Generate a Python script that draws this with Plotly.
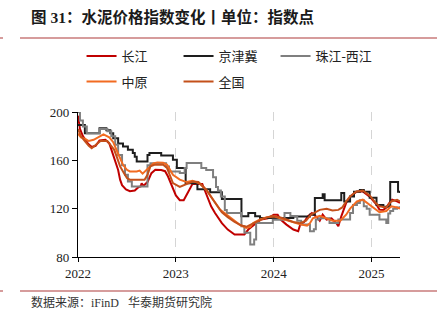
import plotly.graph_objects as go

# ---- data (decimal years, index points) ----
t_cj = [2022.00, 2022.02, 2022.05, 2022.10, 2022.14, 2022.18, 2022.22, 2022.28, 2022.32, 2022.35, 2022.38,
        2022.41, 2022.43, 2022.45, 2022.49, 2022.53, 2022.58, 2022.62, 2022.64, 2022.65, 2022.67, 2022.71,
        2022.75, 2022.79, 2022.85, 2022.89, 2022.92, 2022.96, 2023.00, 2023.04, 2023.08, 2023.12, 2023.17,
        2023.27, 2023.32, 2023.36, 2023.40, 2023.47, 2023.53, 2023.60, 2023.70, 2023.74, 2023.80, 2023.87,
        2023.94, 2024.00, 2024.04, 2024.07, 2024.13, 2024.20, 2024.25, 2024.27, 2024.31, 2024.35, 2024.39,
        2024.44, 2024.47, 2024.50, 2024.54, 2024.59, 2024.64, 2024.66, 2024.69, 2024.74, 2024.78, 2024.85,
        2024.91, 2024.98, 2025.05, 2025.08, 2025.12, 2025.15, 2025.18, 2025.21, 2025.26, 2025.29]
v_cj = [197, 186, 180, 174, 171, 172, 176.5, 177, 174, 167, 159,
        152, 144, 139.5, 136, 134.5, 135, 138, 138.4, 141, 139, 142,
        149.4, 152.2, 152, 151, 146.6, 138.4, 131, 127, 127, 133, 140.5,
        140.5, 130, 122, 116.4, 108, 102.7, 98.6, 98.6, 102.7, 106.8, 111,
        112, 115, 115, 111, 106.8, 102.7, 101.3, 106.8, 109, 113.7, 116.4,
        113, 110, 115, 111, 112, 108, 105.4, 113.7, 124.7, 130, 134.3,
        134.3, 130, 123.3, 119.2, 119, 121, 124.7, 127.4, 126, 124.7]

t_jjj = [2022.00, 2022.07, 2022.22, 2022.29, 2022.33, 2022.36, 2022.41, 2022.46, 2022.51, 2022.56, 2022.58,
         2022.60, 2022.71, 2022.73, 2022.85, 2022.97, 2023.01, 2023.10, 2023.22, 2023.35, 2023.47, 2023.67,
         2023.74, 2023.81, 2023.86, 2024.20, 2024.37, 2024.42, 2024.50, 2024.52, 2024.69, 2024.72, 2024.76,
         2024.78, 2024.82, 2024.88, 2024.92, 2024.98, 2025.05, 2025.12, 2025.19, 2025.27, 2025.29]
v_jjj = [189.3, 182.4, 186.5, 185, 182.4, 178.3, 174, 171.4, 168.7, 166, 163,
         159, 164.5, 166, 164, 160.4, 153.6, 141, 136, 133.5, 128, 113.7,
         116.5, 113.7, 112.3, 113.6, 114.9, 128.8, 132, 127, 133, 126, 126,
         130, 134, 135.5, 134, 129, 123, 121.6, 142, 134, 133]

t_zj = [2022.00, 2022.02, 2022.05, 2022.09, 2022.22, 2022.30, 2022.34, 2022.38, 2022.41, 2022.45, 2022.48,
        2022.51, 2022.55, 2022.71, 2022.74, 2022.90, 2022.93, 2023.04, 2023.09, 2023.11, 2023.26, 2023.31,
        2023.38, 2023.41, 2023.43, 2023.46, 2023.50, 2023.52, 2023.67, 2023.70, 2023.76, 2023.80, 2023.82,
        2023.99, 2024.11, 2024.17, 2024.24, 2024.28, 2024.37, 2024.41, 2024.43, 2024.46, 2024.57, 2024.66,
        2024.78, 2024.81, 2024.85, 2024.88, 2024.92, 2024.95, 2024.98, 2025.08, 2025.15, 2025.17, 2025.19,
        2025.22, 2025.26, 2025.29]
v_zj = [200, 193, 188, 182.4, 186, 184, 180, 172.8, 164.5, 156, 148,
        142.5, 138.4, 156, 157.5, 155, 150.8, 149.5, 153.6, 157.7, 153.6, 152,
        146, 138, 135, 130, 119, 116.5, 105.4, 100, 90.3, 94.4, 108.2,
        110.9, 116.4, 114, 110, 106.8, 101.3, 103, 111, 112, 108.2, 111,
        116.4, 123, 124.7, 127, 122, 120, 115, 111, 108.2, 116, 118,
        120, 121, 122]

t_zy = [2022.00, 2022.03, 2022.07, 2022.11, 2022.16, 2022.21, 2022.26, 2022.32, 2022.36, 2022.40, 2022.43,
        2022.46, 2022.50, 2022.53, 2022.60, 2022.63, 2022.66, 2022.70, 2022.74, 2022.77, 2022.81, 2022.87,
        2022.91, 2022.94, 2022.97, 2023.04, 2023.11, 2023.17, 2023.24, 2023.31, 2023.38, 2023.45, 2023.52,
        2023.58, 2023.65, 2023.72, 2023.76, 2023.79, 2023.86, 2023.93, 2024.00, 2024.06, 2024.13, 2024.20,
        2024.27, 2024.34, 2024.37, 2024.40, 2024.47, 2024.54, 2024.60, 2024.68, 2024.74, 2024.78, 2024.85,
        2024.91, 2024.95, 2025.02, 2025.08, 2025.15, 2025.20, 2025.26, 2025.29]
v_zy = [182, 179, 178, 176, 177, 179, 181.5, 179, 175, 167.3, 161.8,
        156.3, 152.2, 150.8, 150.8, 151.5, 149, 152, 155, 157.5, 158.3, 158,
        156.3, 152.2, 148, 144, 142, 143, 141, 135.7, 127.4, 119.2, 115,
        111, 106.8, 104, 105, 108.2, 111, 113, 113.6, 112.3, 110.5, 108.2,
        107, 106, 108, 112, 114, 112, 110, 110, 115, 120, 126,
        127.5, 125, 120, 117, 118, 122, 121, 120]

t_qg = [2022.00, 2022.03, 2022.07, 2022.11, 2022.14, 2022.19, 2022.23, 2022.30, 2022.37, 2022.40, 2022.43,
        2022.47, 2022.50, 2022.53, 2022.64, 2022.68, 2022.71, 2022.74, 2022.78, 2022.87, 2022.91, 2022.94,
        2022.97, 2023.04, 2023.11, 2023.17, 2023.23, 2023.31, 2023.38, 2023.43, 2023.47, 2023.53, 2023.60,
        2023.67, 2023.72, 2023.77, 2023.82, 2023.90, 2023.98, 2024.06, 2024.13, 2024.20, 2024.27, 2024.33,
        2024.38, 2024.42, 2024.47, 2024.54, 2024.60, 2024.66, 2024.70, 2024.74, 2024.78, 2024.84, 2024.91,
        2024.98, 2025.05, 2025.08, 2025.15, 2025.20, 2025.26, 2025.29]
v_qg = [186, 180, 176, 172, 170, 173, 176, 176, 168.7, 162, 155,
        149.4, 145.3, 144, 144, 144, 148, 155, 156.3, 156.3, 153.6, 148,
        141.2, 138, 140.5, 142.5, 142, 135.7, 127.4, 122, 117, 113, 109,
        106, 105, 107, 109, 112, 114, 113, 111, 109, 108, 110,
        115, 117, 119, 120, 118.5, 119, 121, 126, 130, 134, 135,
        131, 124, 122, 121, 126, 127.4, 126]

year_ticks = [2022, 2023, 2024, 2025]
year_labels = ["2022", "2023", "2024", "2025"]
y_ticks = [80, 120, 160, 200]

serif = "Liberation Serif, Times New Roman, Noto Sans CJK SC, serif"
cjk = "Liberation Serif, Noto Sans CJK SC, sans-serif"

fig = go.Figure()
series = [
    ("长江", t_cj, v_cj, "#C00000", "linear", "legend"),
    ("京津冀", t_jjj, v_jjj, "#1E1E1E", "hv", "legend"),
    ("珠江-西江", t_zj, v_zj, "#7F7F7F", "hv", "legend"),
    ("中原", t_zy, v_zy, "#F26B21", "linear", "legend2"),
    ("全国", t_qg, v_qg, "#C4501A", "linear", "legend2"),
]
for name, t, v, c, shp, lg in series:
    fig.add_trace(go.Scatter(x=t, y=v, name=name, mode="lines",
                             line=dict(color=c, width=2, shape=shp), legend=lg))

legend_common = dict(orientation="h", xanchor="left", yanchor="middle",
                     font=dict(family=cjk, size=13, color="#222"),
                     bgcolor="rgba(0,0,0,0)", entrywidth=52, entrywidthmode="pixels",
                     itemwidth=30, traceorder="normal")

fig.update_layout(
    width=437, height=322,
    margin=dict(l=78, r=37, t=112, b=65),
    paper_bgcolor="white", plot_bgcolor="white",
    showlegend=True,
    legend=dict(x=0.011, y=1.386, **legend_common),
    legend2=dict(x=0.011, y=1.21, **legend_common),
    xaxis=dict(range=[2022, 2025.29], tickvals=year_ticks, ticktext=year_labels,
               showline=True, linecolor="#000", linewidth=1.3,
               ticks="outside", ticklen=4, tickcolor="#000",
               showgrid=True, gridcolor="#D5D5D5", griddash="dash", gridwidth=1,
               zeroline=False, tickfont=dict(family=serif, size=13, color="#222")),
    yaxis=dict(range=[80, 200], tickvals=y_ticks,
               showline=True, linecolor="#000", linewidth=1.3,
               ticks="outside", ticklen=5, tickcolor="#000",
               showgrid=False, zeroline=False,
               tickfont=dict(family=serif, size=13, color="#222")),
    shapes=[
        dict(type="line", xref="paper", yref="paper", x0=-58/322, x1=359/322,
             y0=(257-38)/145, y1=(257-38)/145,
             line=dict(color="#C97B7B", width=1.5)),
        dict(type="line", xref="paper", yref="paper", x0=-78/322, x1=-75/322,
             y0=(257-38)/145, y1=(257-38)/145,
             line=dict(color="#C97B7B", width=1.5)),
        dict(type="line", xref="paper", yref="paper", x0=-58/322, x1=359/322,
             y0=-(291-257)/145, y1=-(291-257)/145,
             line=dict(color="#C97B7B", width=1.5)),
        dict(type="line", xref="paper", yref="paper", x0=-78/322, x1=-75/322,
             y0=-(291-257)/145, y1=-(291-257)/145,
             line=dict(color="#C97B7B", width=1.5)),
    ],
    annotations=[
        dict(text="<b>图 31：水泥价格指数变化丨单位：指数点</b>", xref="paper", yref="paper",
             x=-49/322, y=(257-17)/145, xanchor="left", yanchor="middle", showarrow=False,
             font=dict(family=cjk, size=15.5, color="#1a1a1a")),
        dict(text="数据来源：iFinD   华泰期货研究院", xref="paper", yref="paper",
             x=-49/322, y=-(302-257)/145, xanchor="left", yanchor="middle", showarrow=False,
             font=dict(family=cjk, size=12, color="#333")),
    ],
)

fig.write_html("out.html")
